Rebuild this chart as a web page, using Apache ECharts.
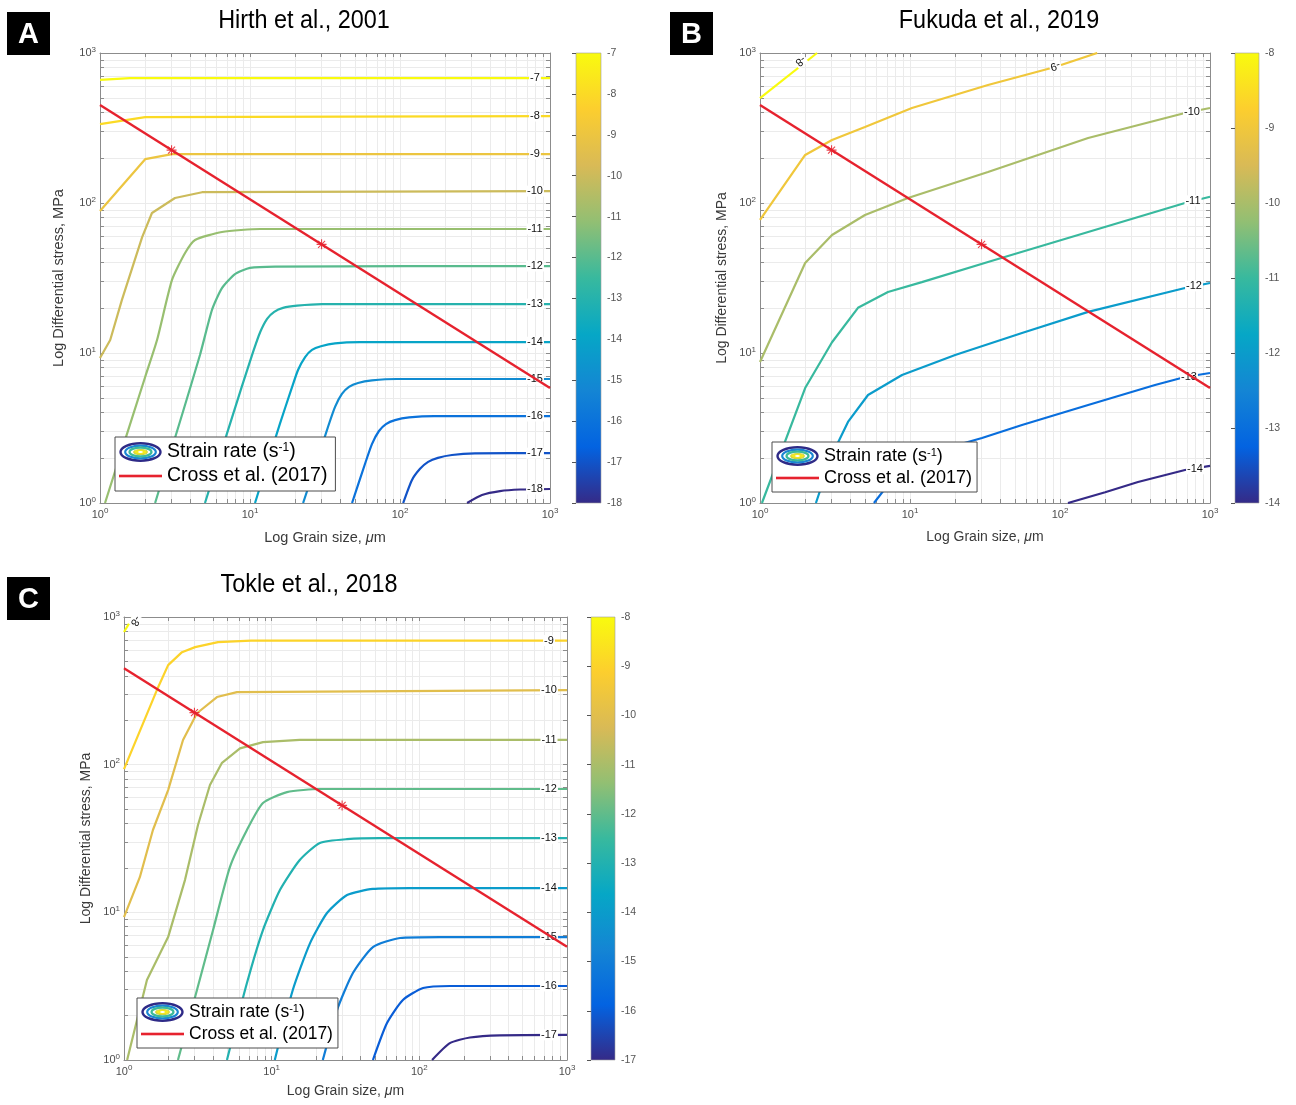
<!DOCTYPE html>
<html>
<head>
<meta charset="utf-8">
<script src="https://cdn.jsdelivr.net/npm/echarts@6/dist/echarts.min.js"></script>
<style>
html,body{margin:0;padding:0;background:#fff;}
#chart{width:1296px;height:1105px;}
</style>
</head>
<body>
<div id="chart"></div>
<script>
// ================= DATA =================
// Panel A : Hirth et al., 2001  — log10 strain-rate contour levels
const hirthLevels = [-7, -8, -9, -10, -11, -12, -13, -14, -15, -16, -17, -18];
const hirthGrain = [
  [1, 1.58, 1000],
  [1, 2, 1000],
  [1, 2, 3.02, 1000],
  [1, 1.17, 1.40, 1.91, 2.22, 3.16, 4.79, 1000],
  [1.08, 2.0, 2.40, 3.02, 3.69, 4.30, 6.50, 11.7, 1000],
  [2.33, 3.52, 4.64, 5.58, 6.50, 7.94, 10.0, 14.7, 1000],
  [5.01, 8.85, 10.5, 11.7, 13.0, 14.5, 16.6, 20.6, 30.2, 1000],
  [10.8, 15.8, 18.8, 20.9, 23.3, 25.9, 29.7, 36.9, 54.1, 1000],
  [22.6, 28.0, 33.1, 36.9, 41.0, 45.7, 52.5, 65.0, 95.5, 1000],
  [47.9, 58.4, 65.0, 72.4, 80.6, 92.6, 115, 169, 1000],
  [105, 120, 136, 154, 179, 222, 316, 1000],
  [280, 352, 464, 631, 1000]
];
const hirthStress = [
  [661, 681, 681],
  [336, 374, 380],
  [88.5, 196, 212, 212],
  [9.27, 12.2, 22.6, 59.3, 85.8, 108, 118, 120],
  [1, 6.92, 12.2, 30.7, 46.4, 56.7, 64.1, 67.1, 67.1],
  [1, 3.86, 9.70, 19.4, 27.1, 33.6, 36.9, 37.7, 38.0],
  [1, 6.03, 10.2, 13.8, 16.9, 18.8, 20.0, 20.7, 21.2, 21.2],
  [1, 3.36, 5.67, 7.70, 9.40, 10.5, 11.1, 11.6, 11.8, 11.8],
  [1, 1.91, 3.21, 4.37, 5.33, 5.94, 6.31, 6.56, 6.71, 6.71],
  [1, 1.82, 2.47, 3.02, 3.36, 3.57, 3.72, 3.80, 3.80],
  [1, 1.42, 1.69, 1.88, 2.00, 2.09, 2.14, 2.15],
  [1, 1.13, 1.20, 1.23, 1.24]
];
const hirthColorbar = [-18, -7];

// Panel B : Fukuda et al., 2019
const fukudaLevels = [-8, -9, -10, -11, -12, -13, -14];
const fukudaGrain = [
  [1, 2.40],
  [1, 2.0, 3.02, 5.01, 10.3, 33.1, 92.7, 177],
  [1, 2.0, 3.02, 5.01, 9.70, 33.1, 154, 681, 1000],
  [1.03, 2.0, 3.02, 4.50, 7.13, 12.0, 33.1, 154, 681, 1000],
  [2.36, 3.02, 3.86, 5.25, 8.85, 20.0, 55.8, 154, 681, 1000],
  [5.75, 7.13, 12.0, 30.2, 55.8, 154, 430, 681, 1000],
  [113, 200, 331, 681, 1000]
];
const fukudaStress = [
  [501, 1000],
  [77.1, 209, 263, 321, 430, 612, 807, 1000],
  [8.71, 39.8, 61.2, 83.2, 108, 161, 271, 398, 430],
  [1, 5.84, 11.8, 20.0, 25.5, 29.7, 40.4, 64.1, 100, 110],
  [1, 2.09, 3.47, 5.25, 7.13, 9.70, 13.6, 18.8, 27.1, 29.3],
  [1, 1.32, 2.09, 2.71, 3.31, 4.50, 6.12, 6.92, 7.36],
  [1, 1.18, 1.38, 1.66, 1.77]
];
const fukudaColorbar = [-14, -8];

// Panel C : Tokle et al., 2018
const tokleLevels = [-8, -9, -10, -11, -12, -13, -14, -15, -16, -17];
const tokleGrain = [
  [1, 1.15],
  [1, 1.67, 1.99, 2.47, 3.03, 4.33, 7.24, 1000],
  [1, 1.28, 1.57, 1.99, 2.51, 3.12, 4.26, 5.82, 1000],
  [1.05, 1.43, 1.99, 2.59, 3.17, 3.82, 4.61, 6.10, 8.73, 15.5, 1000],
  [2.32, 3.12, 4.01, 5.22, 6.80, 8.73, 12.7, 21.2, 1000],
  [4.98, 6.80, 8.73, 11.4, 15.5, 21.2, 32.4, 54.1, 1000],
  [10.5, 13.9, 18.2, 23.7, 32.4, 48.5, 86.3, 1000],
  [22.2, 27.7, 35.5, 48.5, 73.9, 138, 1000],
  [48.5, 60.4, 77.4, 106, 161, 301, 1000],
  [122, 161, 220, 351, 1000]
];
const tokleStress = [
  [791, 1000],
  [93.3, 320, 472, 578, 625, 676, 692, 692],
  [9.29, 17.3, 36.1, 67.3, 147, 223, 287, 310, 320],
  [1, 3.48, 6.80, 16.6, 39.0, 72.8, 103, 129, 142, 147, 147],
  [1, 2.98, 7.59, 20.3, 36.1, 55.0, 65.2, 68.4, 68.4],
  [1, 3.32, 7.59, 14.2, 22.6, 29.5, 31.3, 31.8, 31.8],
  [1, 2.98, 6.19, 9.89, 13.1, 14.4, 14.6, 14.6],
  [1, 2.18, 3.88, 5.82, 6.70, 6.80, 6.80],
  [1, 1.78, 2.55, 3.07, 3.17, 3.17, 3.17],
  [1, 1.30, 1.42, 1.47, 1.48]
];
const tokleColorbar = [-17, -8];

// Cross et al. (2017) piezometer line and its two star markers (same in all panels)
const crossGrain = [1, 1000];
const crossStress = [450, 5.84];
const crossStarGrain = [3, 30];
const crossStarStress = [225, 53];

// axis ticks (log decades and minor ticks)
const logMajorTicks = [1, 10, 100, 1000];
const logAllTicks = [1,2,3,4,5,6,7,8,9,10,20,30,40,50,60,70,80,90,100,200,300,400,500,600,700,800,900,1000];

// ================= STYLE / LAYOUT =================
const FONT = '"Liberation Sans", Arial, Helvetica, sans-serif';
const PARULA = ['#352a87','#0363e1','#1485d4','#06a7c6','#38b99e','#92bf73','#d9ba56','#fcce2e','#f9fb0e'];
const RED = '#e6222e';
const AXIS_COL = '#8c8c8c';
const LABEL_COL = '#4d4d4d';

function hexRgb(h){ return [1,3,5].map(k => parseInt(h.substr(k,2),16)); }
function parula(t){
  t = Math.max(0, Math.min(1, t));
  const x = t * (PARULA.length - 1);
  const i = Math.min(Math.floor(x), PARULA.length - 2);
  const f = x - i;
  const a = hexRgb(PARULA[i]), b = hexRgb(PARULA[i+1]);
  return 'rgb(' + [0,1,2].map(k => Math.round(a[k] + (b[k]-a[k]) * f)).join(',') + ')';
}

// label offsets for rotated labels are given in the label's own (rotated) frame
const panels = [
  { letter:'A', title:'Hirth et al., 2001', titleX:304, titleY:21, letterX:7, letterY:12,
    levels:hirthLevels, grain:hirthGrain, stress:hirthStress, range:hirthColorbar,
    grid:{left:100, top:53, width:450, height:450}, cb:{left:576, top:53, width:25, height:450},
    legend:{left:115, top:437, fs:19.5, pad:[5,8,5,4], gap:4}, nameFs:14.5, xNameGap:27, yNameGap:34,
    smoothFrom:-11,
    labels:{} , defLabel:{offset:[-15,0]} },
  { letter:'B', title:'Fukuda et al., 2019', titleX:999, titleY:21, letterX:670, letterY:12,
    levels:fukudaLevels, grain:fukudaGrain, stress:fukudaStress, range:fukudaColorbar,
    grid:{left:760, top:53, width:450, height:450}, cb:{left:1235, top:53, width:24, height:450},
    legend:{left:772, top:442, fs:18, pad:[4,5,4,4], gap:2}, nameFs:14, xNameGap:27, yNameGap:31,
    smoothFrom:-99,
    labels:{'-8':{offset:[18,4], rotate:218}, '-9':{offset:[44,0], rotate:197},
            '-10':{offset:[-18,4]}, '-11':{offset:[-17,4]}, '-12':{offset:[-16,3]},
            '-13':{offset:[-21,4]}, '-14':{offset:[-15,3]}},
    defLabel:{offset:[-17,0]} },
  { letter:'C', title:'Tokle et al., 2018', titleX:309, titleY:585, letterX:7, letterY:577,
    levels:tokleLevels, grain:tokleGrain, stress:tokleStress, range:tokleColorbar,
    grid:{left:124, top:617, width:443, height:443}, cb:{left:591, top:617, width:24, height:443},
    legend:{left:137, top:998, fs:17.5, pad:[4,5,4,4], gap:2}, nameFs:14, xNameGap:24, yNameGap:31,
    smoothFrom:-12,
    labels:{'-8':{offset:[2,-4], rotate:240}}, defLabel:{offset:[-18,0]} }
];

function supLabel(v){ return '{b|10}{s|' + Math.round(Math.log10(v)) + '}'; }
const supRich = {
  b:{fontSize:11, color:LABEL_COL, fontFamily:FONT, lineHeight:17},
  s:{fontSize:8, color:LABEL_COL, fontFamily:FONT, verticalAlign:'top', padding:[1,0,0,0]}
};

const svgContour = "<svg xmlns='http://www.w3.org/2000/svg' width='43' height='20' viewBox='0 0 43 20' preserveAspectRatio='none'>" +
  "<ellipse cx='21.5' cy='10' rx='20' ry='8.7' fill='#ffffff' stroke='#2e2a87' stroke-width='2.4'/>" +
  "<ellipse cx='21.5' cy='10' rx='15.3' ry='6.4' fill='none' stroke='#1a86d3' stroke-width='2.2'/>" +
  "<ellipse cx='21.5' cy='10' rx='11' ry='4.4' fill='none' stroke='#3dba98' stroke-width='2.2'/>" +
  "<ellipse cx='21.5' cy='10' rx='6.8' ry='2.5' fill='#f5ea1e' stroke='#cfd23c' stroke-width='1.2'/>" +
  "<ellipse cx='21.5' cy='10' rx='2.4' ry='0.9' fill='#ffffff'/></svg>";
const svgRed = "<svg xmlns='http://www.w3.org/2000/svg' width='43' height='20' viewBox='0 0 43 20' preserveAspectRatio='none'>" +
  "<rect x='0' y='8.7' width='43' height='2.6' fill='" + RED + "'/></svg>";
const ICON_CONTOUR = 'image://data:image/svg+xml;charset=utf-8,' + encodeURIComponent(svgContour);
const ICON_RED = 'image://data:image/svg+xml;charset=utf-8,' + encodeURIComponent(svgRed);

const STAR = 'path://M-0.55,-5L0.55,-5L0.55,5L-0.55,5Z M-5,-0.55L5,-0.55L5,0.55L-5,0.55Z M-3.9,-3.1L-3.1,-3.9L3.9,3.1L3.1,3.9Z M3.1,-3.9L3.9,-3.1L-3.1,3.9L-3.9,3.1Z';

// ================= OPTION =================
const grids = [], xAxes = [], yAxes = [], series = [], legends = [], graphics = [];

panels.forEach(p => grids.push(Object.assign({containLabel:false}, p.grid)));
panels.forEach(p => grids.push(Object.assign({containLabel:false}, p.cb)));

panels.forEach((p, i) => {
  const axisLine = {show:true, onZero:false, lineStyle:{color:AXIS_COL, width:1}};
  const tick = {show:true, inside:true, length:4, customValues:logAllTicks, lineStyle:{color:AXIS_COL, width:1}};
  xAxes.push({
    type:'log', logBase:10, gridIndex:i, min:1, max:1000, position:'bottom',
    name:'Log Grain size, {it|\u03bc}m', nameLocation:'middle', nameGap:p.xNameGap,
    nameTextStyle:{fontSize:p.nameFs, color:'#3a3a3a', fontFamily:FONT,
      rich:{it:{fontStyle:'italic', fontSize:p.nameFs, color:'#3a3a3a', fontFamily:FONT}}},
    axisLine, axisTick:tick,
    axisLabel:{show:true, formatter:supLabel, rich:supRich, margin:3, customValues:logMajorTicks},
    splitLine:{show:true, lineStyle:{color:'#ebebeb', width:1}}
  });
  xAxes.push({
    type:'log', logBase:10, gridIndex:i, min:1, max:1000, position:'top',
    axisLine, axisTick:tick, axisLabel:{show:false}, splitLine:{show:false}
  });
  yAxes.push({
    type:'log', logBase:10, gridIndex:i, min:1, max:1000, position:'left',
    name:'Log Differential stress, MPa', nameLocation:'middle', nameGap:p.yNameGap,
    nameTextStyle:{fontSize:p.nameFs, color:'#3a3a3a', fontFamily:FONT},
    axisLine, axisTick:tick,
    axisLabel:{show:true, formatter:supLabel, rich:supRich, margin:4, customValues:logMajorTicks},
    splitLine:{show:true, lineStyle:{color:'#ebebeb', width:1}}
  });
  yAxes.push({
    type:'log', logBase:10, gridIndex:i, min:1, max:1000, position:'right',
    axisLine, axisTick:tick, axisLabel:{show:false}, splitLine:{show:false}
  });
});

panels.forEach((p, i) => {
  xAxes.push({type:'value', gridIndex:3+i, min:0, max:1, show:false});
  yAxes.push({
    type:'value', gridIndex:3+i, min:p.range[0], max:p.range[1], interval:1, position:'right', z:5,
    axisLine:{show:false},
    axisTick:{show:true, inside:true, length:4, lineStyle:{color:'#555', width:1}},
    axisLabel:{show:true, fontSize:10.5, color:'#555', fontFamily:FONT, margin:6},
    splitLine:{show:false}
  });
});

panels.forEach((p, i) => {
  const xi = 2*i, yi = 2*i;
  const span = p.range[1] - p.range[0];
  p.levels.forEach((lv, k) => {
    const col = parula((lv - p.range[0]) / span);
    const lab = p.labels[String(lv)] || p.defLabel;
    const sm = lv <= p.smoothFrom;
    series.push({
      type:'line', name:'Strain rate', xAxisIndex:xi, yAxisIndex:yi,
      data:p.grain[k].map((g, j) => [g, p.stress[k][j]]),
      symbol:'none', showSymbol:false, smooth: sm ? 0.2 : false,
      silent:true, z:2, clip:true,
      lineStyle:{color:col, width:2.2}, itemStyle:{color:col},
      endLabel:{show:true, formatter:String(lv), align:'center', verticalAlign:'middle', distance:0,
        offset:lab.offset, rotate:lab.rotate || 0, color:'#111', fontSize:11, fontFamily:FONT,
        backgroundColor:'#ffffff', padding:[0,1,0,1]}
    });
  });
  series.push({
    type:'line', name:'Cross et al. (2017)', xAxisIndex:xi, yAxisIndex:yi,
    data:crossGrain.map((g, j) => [g, crossStress[j]]),
    symbol:'none', showSymbol:false, silent:true, z:3, clip:true,
    lineStyle:{color:RED, width:2.4}, itemStyle:{color:RED}
  });
  series.push({
    type:'scatter', name:'Cross stars', xAxisIndex:xi, yAxisIndex:yi,
    data:crossStarGrain.map((g, j) => [g, crossStarStress[j]]),
    symbol:STAR, symbolSize:10, silent:true, z:4,
    itemStyle:{color:RED, opacity:0.85}
  });
  const stops = PARULA.map((c, s) => ({offset: 1 - s/(PARULA.length-1), color:c})).reverse();
  series.push({
    type:'custom', xAxisIndex:6+i, yAxisIndex:6+i, silent:true, z:1,
    data:[[0, p.range[0], p.range[1]]],
    encode:{x:0, y:[1,2]},
    renderItem:(params, api) => {
      const tl = api.coord([0, api.value(2)]);
      const br = api.coord([1, api.value(1)]);
      return {type:'rect', shape:{x:tl[0], y:tl[1], width:br[0]-tl[0], height:br[1]-tl[1]},
        style:{fill:new echarts.graphic.LinearGradient(0,0,0,1, stops), stroke:'#a0a0a0', lineWidth:0.6}};
    }
  });

  legends.push({
    left:p.legend.left, top:p.legend.top, orient:'vertical', selectedMode:false, z:10,
    backgroundColor:'#ffffff', borderColor:'#4d4d4d', borderWidth:1, borderRadius:0,
    padding:p.legend.pad, itemGap:p.legend.gap, itemWidth:43, itemHeight:20,
    data:[{name:'Strain rate', icon:ICON_CONTOUR}, {name:'Cross et al. (2017)', icon:ICON_RED}],
    formatter:n => (n === 'Strain rate' ? 'Strain rate (s{sup|-1})' : n),
    textStyle:{fontSize:p.legend.fs, color:'#000', fontFamily:FONT,
      rich:{sup:{fontSize:Math.round(p.legend.fs*0.62), color:'#000', fontFamily:FONT, verticalAlign:'top'}}}
  });

  graphics.push({type:'rect', x:p.letterX, y:p.letterY, shape:{x:0, y:0, width:43, height:43},
    style:{fill:'#000'}, z:20});
  graphics.push({type:'text', x:p.letterX + 21.5, y:p.letterY + 22.5, z:21,
    style:{text:p.letter, fill:'#fff', font:'bold 29px ' + FONT, textAlign:'center', textVerticalAlign:'middle',
      align:'center', verticalAlign:'middle'}});
  graphics.push({type:'text', x:p.titleX, y:p.titleY, scaleX:0.9, z:21,
    style:{text:p.title, fill:'#000', font:'26px ' + FONT, textAlign:'center', textVerticalAlign:'middle',
      align:'center', verticalAlign:'middle'}});
});

const option = {
  animation:false,
  backgroundColor:'#ffffff',
  textStyle:{fontFamily:FONT},
  grid:grids, xAxis:xAxes, yAxis:yAxes, series:series, legend:legends, graphic:graphics
};

const chart = echarts.init(document.getElementById('chart'), null, {renderer:'canvas'});
chart.setOption(option);
</script>
</body>
</html>
